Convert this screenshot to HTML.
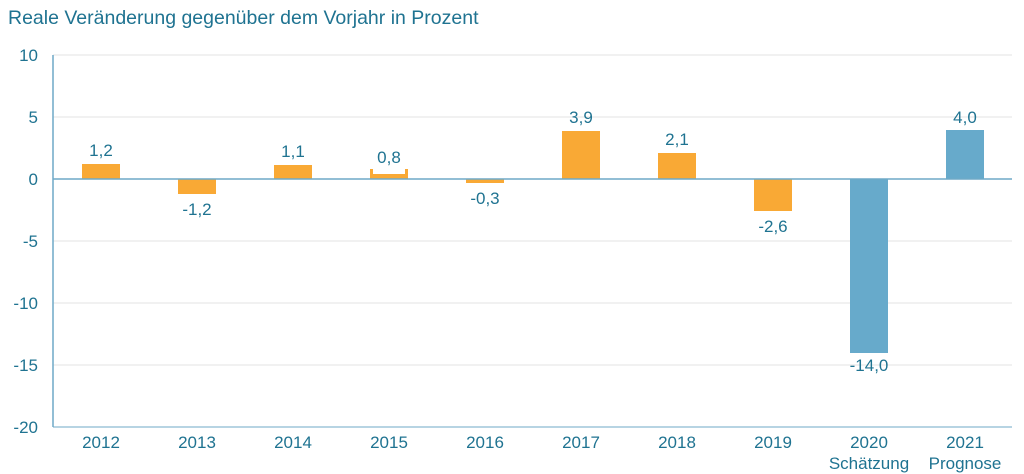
<!DOCTYPE html><html><head><style>body{margin:0;background:#fff}svg{display:block;font-family:"Liberation Sans",sans-serif}</style></head><body>
<svg width="1024" height="474" xmlns="http://www.w3.org/2000/svg">
<text x="8" y="24" font-size="19.5" fill="#1f7391">Reale Veränderung gegenüber dem Vorjahr in Prozent</text>
<g stroke="#e3e3e3" stroke-width="1">
<line x1="53" x2="1012" y1="55" y2="55"/><line x1="53" x2="1012" y1="117" y2="117"/><line x1="53" x2="1012" y1="241" y2="241"/><line x1="53" x2="1012" y1="303" y2="303"/><line x1="53" x2="1012" y1="365" y2="365"/>
</g>
<line x1="53" x2="1012" y1="427" y2="427" stroke="#6fa9c7" stroke-width="1"/>
<g font-size="17" fill="#1f7391" text-anchor="end">
<text x="38" y="61">10</text><text x="38" y="123">5</text><text x="38" y="185">0</text><text x="38" y="247">-5</text><text x="38" y="309">-10</text><text x="38" y="371">-15</text><text x="38" y="433">-20</text>
</g>
<g fill="#f9a935">
<rect x="82" y="164" width="38" height="15"/>
<rect x="178" y="179" width="38" height="15"/>
<rect x="274" y="165" width="38" height="14"/>
<rect x="370" y="174" width="38" height="5"/><rect x="370" y="169" width="3" height="10"/><rect x="405" y="169" width="3" height="10"/>
<rect x="466" y="179" width="38" height="4"/>
<rect x="562" y="131" width="38" height="48"/>
<rect x="658" y="153" width="38" height="26"/>
<rect x="754" y="179" width="38" height="32"/>
</g>
<g fill="#67aacb">
<rect x="850" y="179" width="38" height="174"/>
<rect x="946" y="130" width="38" height="49"/>
</g>
<line x1="53" x2="1012" y1="179" y2="179" stroke="#6fa9c7" stroke-width="1.5"/>
<line x1="53" x2="53" y1="55" y2="427" stroke="#6fa9c7" stroke-width="1.5"/>
<g font-size="17" fill="#1f7391" text-anchor="middle">
<text x="101" y="156">1,2</text><text x="197" y="215">-1,2</text><text x="293" y="157">1,1</text><text x="389" y="163">0,8</text><text x="485" y="204">-0,3</text><text x="581" y="123">3,9</text><text x="677" y="145">2,1</text><text x="773" y="232">-2,6</text><text x="869" y="371">-14,0</text><text x="965" y="123">4,0</text>
<text x="101" y="448">2012</text><text x="197" y="448">2013</text><text x="293" y="448">2014</text><text x="389" y="448">2015</text><text x="485" y="448">2016</text><text x="581" y="448">2017</text><text x="677" y="448">2018</text><text x="773" y="448">2019</text><text x="869" y="448">2020</text><text x="965" y="448">2021</text>
<text x="869" y="469">Schätzung</text><text x="965" y="469">Prognose</text>
</g>
</svg></body></html>
